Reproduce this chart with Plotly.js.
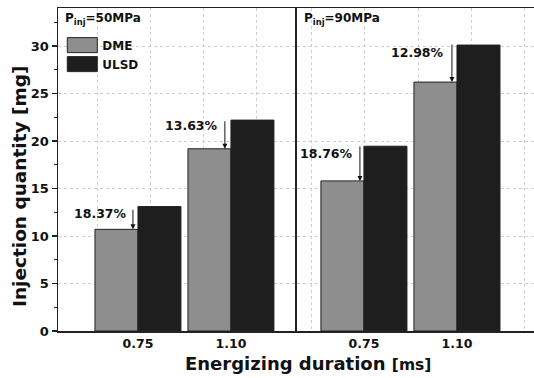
<!DOCTYPE html>
<html><head><meta charset="utf-8">
<script src="https://cdn.plot.ly/plotly-3.0.1.min.js"></script>
<style>html,body{margin:0;padding:0;background:#fff}#chart{width:534px;height:378px}</style>
</head><body><div id="chart"></div>
<script>
// ---- data ----
const categories = ['0.75', '1.10'];
const catPos = [0, 1];
const dme50 = [10.7, 19.18];
const ulsd50 = [13.1, 22.2];
const dme90 = [15.8, 26.2];
const ulsd90 = [19.45, 30.1];
const pct50 = ['18.37%', '13.63%'];
const pct90 = ['18.76%', '12.98%'];
const panelLabels = ['P<sub>inj</sub>=50MPa', 'P<sub>inj</sub>=90MPa'];
const seriesNames = ['DME', 'ULSD'];

const F = '"DejaVu Sans", Verdana, sans-serif';
const dmeColor = '#8e8e8e', ulsdColor = '#1e1e1e', edge = '#222';

function bar(name, x, y, color, xa, ya, showlegend) {
  return {type: 'bar', name: name, x: x, y: y, xaxis: xa, yaxis: ya, showlegend: showlegend,
    marker: {color: color, line: {color: edge, width: 1}}, hoverinfo: 'none'};
}
const data = [
  bar(seriesNames[0], catPos, dme50, dmeColor, 'x', 'y', true),
  bar(seriesNames[1], catPos, ulsd50, ulsdColor, 'x', 'y', true),
  bar(seriesNames[0], catPos, dme90, dmeColor, 'x2', 'y2', false),
  bar(seriesNames[1], catPos, ulsd90, ulsdColor, 'x2', 'y2', false)
];

const xCommon = {
  type: 'linear', tickvals: catPos, ticktext: categories, ticks: '', showgrid: false,
  zeroline: false, showline: true, linecolor: edge, linewidth: 1.5, mirror: true,
  tickfont: {family: F, size: 12.5, color: '#111', weight: 'bold'}, fixedrange: true
};
const yCommon = {
  range: [0, 34], dtick: 5, tick0: 0, zeroline: false, showline: true, linecolor: edge, linewidth: 1.5,
  showgrid: true, gridcolor: '#cfcfcf', griddash: '3px,3px', gridwidth: 1, fixedrange: true
};

const ann = [];
// arrow x offsets (relative to category position), tail lengths in px, label offsets
const arrowDx50 = [-0.054, -0.065], arrowLen50 = [-21, -29];
const arrowDx90 = [-0.043, -0.054], arrowLen90 = [-36, -39];
const labelDx50 = [-0.40, -0.42], labelY50 = [12.4, 21.6];
const labelDx90 = [-0.40, -0.42], labelY90 = [18.64, 29.3];

function arrowAnn(xa, ya, x, y, ay) {
  return {xref: xa, yref: ya, x: x, y: y, ax: 0, ay: ay, text: '', showarrow: true,
    arrowhead: 2, arrowsize: 1, arrowwidth: 1, arrowcolor: '#111', standoff: 0};
}
function pctAnn(xa, ya, x, y, t) {
  return {xref: xa, yref: ya, x: x, y: y, text: t, showarrow: false, xanchor: 'center', yanchor: 'middle',
    font: {family: F, size: 12.5, color: '#111', weight: 'bold'}};
}
for (let i = 0; i < catPos.length; i++) {
  ann.push(arrowAnn('x', 'y', catPos[i] + arrowDx50[i], dme50[i], arrowLen50[i]));
  ann.push(pctAnn('x', 'y', catPos[i] + labelDx50[i], labelY50[i], pct50[i]));
  ann.push(arrowAnn('x2', 'y2', catPos[i] + arrowDx90[i], dme90[i], arrowLen90[i]));
  ann.push(pctAnn('x2', 'y2', catPos[i] + labelDx90[i], labelY90[i], pct90[i]));
}
ann.push({xref: 'paper', yref: 'paper', x: 0.0105, y: 0.966, xanchor: 'left', yanchor: 'middle', showarrow: false,
  text: panelLabels[0], font: {family: F, size: 12, color: '#111', weight: 'bold'}});
ann.push({xref: 'paper', yref: 'paper', x: 0.5126, y: 0.966, xanchor: 'left', yanchor: 'middle', showarrow: false,
  text: panelLabels[1], font: {family: F, size: 12, color: '#111', weight: 'bold'}});
ann.push({xref: 'paper', yref: 'paper', x: -0.0798, y: 0.446, xanchor: 'center', yanchor: 'middle', showarrow: false,
  textangle: -90, text: 'Injection quantity [mg]', font: {family: F, size: 18.5, color: '#111', weight: 'bold'}});
ann.push({xref: 'paper', yref: 'paper', x: 0.525, y: -0.102, xanchor: 'center', yanchor: 'middle', showarrow: false,
  text: 'Energizing duration <span style="font-size:15.5px">[ms]</span>', font: {family: F, size: 18, color: '#111', weight: 'bold'}});

const layout = {
  width: 534, height: 378,
  margin: {l: 58, r: 0, t: 8, b: 47},
  paper_bgcolor: '#fff', plot_bgcolor: '#fff',
  barmode: 'group', bargap: 0.075, bargroupgap: 0,
  showlegend: true,
  legend: {x: 0.009, y: 0.93, xanchor: 'left', yanchor: 'top', bgcolor: 'rgba(0,0,0,0)', borderwidth: 0,
    font: {family: F, size: 12, color: '#111', weight: 'bold'}, itemwidth: 30, tracegroupgap: 0},
  xaxis: Object.assign({}, xCommon, {domain: [0, 0.502], range: [-0.86, 1.71], anchor: 'y',
    minor: {tickvals: [-0.43, 0.14, 0.71, 1.28], ticks: '', showgrid: true, gridcolor: '#cfcfcf', griddash: '3px,3px', gridwidth: 1}}),
  xaxis2: Object.assign({}, xCommon, {domain: [0.502, 1], range: [-0.72, 1.828], anchor: 'y2',
    minor: {tickvals: [-0.56, 0.01, 0.59, 1.16, 1.73], ticks: '', showgrid: true, gridcolor: '#cfcfcf', griddash: '3px,3px', gridwidth: 1}}),
  yaxis: Object.assign({}, yCommon, {anchor: 'x', ticks: 'outside', ticklen: 5, tickwidth: 1.2, tickcolor: edge,
    tickfont: {family: F, size: 13, color: '#111', weight: 'bold'},
    minor: {dtick: 2.5, ticks: 'outside', ticklen: 3, tickcolor: edge, showgrid: false}}),
  yaxis2: Object.assign({}, yCommon, {anchor: 'x2', showticklabels: false, ticks: ''}),
  annotations: ann
};

Plotly.newPlot('chart', data, layout, {displayModeBar: false, staticPlot: true}).then(function () {
  const gd = document.getElementById('chart');
  gd.querySelectorAll('.legendpoints path').forEach(function (p) {
    p.setAttribute('d', 'M15,7.5H-15V-7.5H15Z');
  });
  // drop empty placeholder text nodes (unused axis titles, arrow-only annotations)
  gd.querySelectorAll('text').forEach(function (t) {
    if (!t.textContent.trim()) t.remove();
  });
});
</script></body></html>
